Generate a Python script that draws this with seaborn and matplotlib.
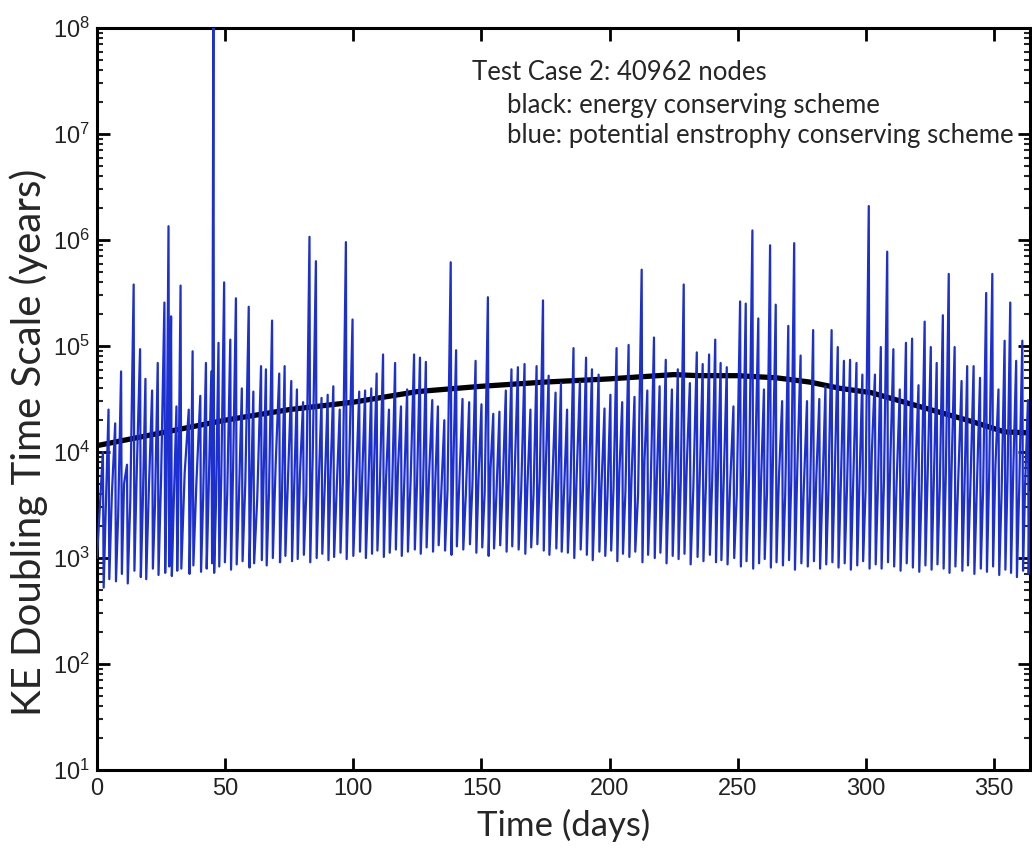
import numpy as np
import pandas as pd
import matplotlib
matplotlib.use("Agg")
import matplotlib.pyplot as plt
import seaborn as sns

# ---------------- data ----------------
# energy conserving scheme (black): day, log10(years)
black_day = [0, 25, 50, 75, 100, 125, 150, 175, 200, 225, 235, 250, 265, 278,
             290, 302, 315, 328, 341, 354, 364]
black_log = [4.06, 4.18, 4.30, 4.40, 4.47, 4.57, 4.62, 4.66, 4.69, 4.73, 4.72,
             4.72, 4.70, 4.66, 4.60, 4.56, 4.47, 4.38, 4.29, 4.19, 4.18]

# potential enstrophy conserving scheme (blue): spike days and log10 peak values
spike_day = [
    2.3, 4.5, 7.1, 9.4, 11.7, 14.3, 16.8, 18.9, 21.5, 23.7, 26.3, 27.9, 28.9, 31.0,
    32.6, 35.8, 37.3, 40.3, 42.5, 44.6, 45.4, 47.4, 49.6, 52.0, 54.2, 56.5, 59.2,
    61.0, 64.0, 65.9, 68.3, 71.1, 73.2, 75.8, 78.0, 80.4, 82.9, 85.4, 87.6, 90.0,
    92.2, 94.7, 97.1, 99.7, 102.3, 104.6, 107.0, 109.1, 111.6, 113.9, 116.3, 118.6, 121.0,
    123.7, 126.0, 128.3, 130.8, 133.0, 135.5, 138.0, 140.1, 142.6, 145.2, 147.7, 150.0,
    152.5, 154.6, 157.0, 159.5, 161.7, 164.2, 166.8, 169.1, 171.5, 174.0, 176.2, 178.9, 181.0,
    183.4, 185.9, 188.4, 190.8, 193.1, 195.7, 198.0, 200.3, 202.7, 204.9, 207.4, 209.7,
    212.5, 214.7, 217.3, 219.5, 221.9, 224.3, 226.6, 228.9, 231.3, 234.0, 236.3, 238.8, 241.2,
    243.3, 245.7, 248.3, 250.9, 253.1, 255.7, 258.0, 260.2, 262.6, 264.8, 267.3, 269.7,
    272.0, 274.5, 277.0, 279.4, 281.8, 284.2, 286.6, 289.0, 291.4, 293.8, 296.3, 298.6, 301.1,
    303.5, 305.8, 308.3, 310.7, 313.2, 315.6, 318.0, 320.5, 322.9, 325.3, 327.6, 330.0,
    332.3, 334.6, 337.3, 339.5, 342.0, 344.5, 346.9, 349.3, 351.7, 354.1, 356.3, 358.6, 361.0, 363.2]
spike_log = [
    4.00, 4.40, 4.27, 4.76, 3.88, 5.58, 4.97, 4.69, 4.58, 4.84, 5.41, 6.13, 5.28, 4.43,
    5.57, 4.40, 4.95, 4.53, 4.84, 4.76, 8.10, 5.03, 5.60, 5.06, 5.45, 4.60, 5.37,
    4.57, 4.81, 4.78, 5.24, 4.74, 4.81, 4.67, 4.59, 4.47, 6.03, 5.80, 4.51, 4.54,
    4.62, 4.40, 5.98, 5.25, 4.57, 4.58, 4.60, 4.74, 4.92, 4.40, 4.84, 4.43, 4.59,
    4.92, 4.89, 4.85, 4.49, 4.43, 4.30, 5.79, 4.96, 4.50, 4.47, 4.86, 4.45,
    5.46, 4.36, 4.38, 4.58, 4.78, 4.80, 4.83, 4.40, 4.81, 5.43, 4.72, 4.56, 4.65,
    4.40, 4.98, 4.66, 4.89, 4.78, 4.73, 4.41, 4.54, 4.98, 4.47, 5.01, 4.52,
    5.72, 4.58, 5.08, 4.62, 4.87, 4.59, 4.78, 5.58, 4.65, 4.94, 4.83, 4.92, 5.06,
    4.84, 4.80, 4.43, 5.42, 5.40, 6.09, 5.26, 4.59, 5.95, 5.39, 4.48, 5.19,
    5.97, 4.91, 4.48, 5.15, 4.50, 4.62, 5.15, 4.99, 4.86, 4.87, 4.84, 4.73, 6.32,
    4.73, 4.99, 5.89, 4.97, 4.59, 5.03, 5.07, 4.63, 5.23, 4.99, 4.84, 5.29,
    5.68, 4.99, 4.67, 4.81, 4.81, 4.70, 5.50, 5.68, 4.59, 5.05, 5.41, 4.86, 5.05, 4.49]
# trough after each spike (log10)
trough_log = [
    2.72, 2.80, 2.78, 2.85, 2.76, 2.88, 2.82, 2.80, 2.90, 2.84, 2.86, 2.92, 2.83, 2.88,
    2.90, 2.85, 2.93, 2.87, 2.90, 2.95, 2.86, 2.92, 2.96, 2.89, 2.94, 2.97, 2.91,
    2.95, 2.98, 2.93, 3.00, 2.96, 3.02, 2.97, 2.99, 3.03, 2.96, 3.00, 3.04, 2.98,
    3.01, 3.05, 2.99, 3.02, 3.06, 3.00, 3.04, 3.07, 3.01, 3.05, 3.08, 3.02, 3.06,
    3.08, 3.04, 3.10, 3.06, 3.12, 3.07, 3.03, 3.11, 3.08, 3.13, 3.05, 3.10,
    3.02, 3.09, 3.12, 3.06, 3.11, 3.08, 3.04, 3.10, 3.13, 3.07, 3.03, 3.09, 3.06,
    3.05, 3.00, 3.08, 3.03, 2.98, 3.06, 3.02, 3.07, 2.97, 3.04, 3.01, 3.06,
    2.96, 3.03, 3.00, 3.05, 2.95, 3.02, 2.99, 3.04, 2.94, 3.01, 2.97, 3.03, 2.96,
    2.98, 2.94, 3.00, 2.92, 2.97, 2.90, 2.95, 2.99, 2.91, 2.96, 2.93, 2.98,
    2.89, 2.95, 2.92, 2.97, 2.90, 2.94, 2.96, 2.91, 2.95, 2.89, 2.93, 2.97, 2.90,
    2.94, 2.90, 2.96, 2.92, 2.88, 2.95, 2.91, 2.87, 2.93, 2.89, 2.94, 2.90,
    2.86, 2.92, 2.88, 2.93, 2.85, 2.90, 2.87, 2.92, 2.84, 2.89, 2.86, 2.82, 2.88, 2.85]
# secondary (minor) peak between two spikes (log10)
mid_log = [
    3.45, 3.60, 3.40, 3.70, 3.55, 3.85, 3.50, 3.62, 3.48, 3.75, 3.58, 3.90, 3.52, 3.66,
    3.80, 3.47, 3.72, 3.56, 3.63, 4.05, 3.50, 3.78, 3.60, 3.85, 3.55, 3.70, 3.62,
    3.55, 3.70, 3.62, 3.88, 3.58, 3.74, 3.65, 3.80, 3.60, 3.95, 3.70, 3.64, 3.78,
    3.60, 3.72, 3.92, 3.66, 3.75, 3.62, 3.82, 3.68, 3.74, 3.60, 3.86, 3.66, 3.72,
    3.70, 3.62, 3.78, 3.66, 3.58, 3.64, 3.90, 3.72, 3.60, 3.68, 3.75, 3.62,
    3.85, 3.58, 3.66, 3.72, 3.80, 3.64, 3.70, 3.60, 3.76, 3.88, 3.65, 3.70, 3.62,
    3.60, 3.78, 3.66, 3.72, 3.64, 3.70, 3.58, 3.65, 3.80, 3.62, 3.76, 3.60,
    3.92, 3.66, 3.74, 3.62, 3.70, 3.64, 3.72, 3.88, 3.66, 3.75, 3.68, 3.72, 3.80,
    3.72, 3.68, 3.60, 3.80, 3.78, 3.95, 3.74, 3.62, 3.90, 3.76, 3.60, 3.72,
    3.88, 3.66, 3.60, 3.74, 3.62, 3.68, 3.76, 3.70, 3.66, 3.72, 3.68, 3.64, 4.00,
    3.66, 3.74, 3.90, 3.70, 3.62, 3.72, 3.76, 3.64, 3.80, 3.70, 3.66, 3.78,
    3.88, 3.70, 3.62, 3.68, 3.66, 3.64, 3.82, 3.86, 3.60, 3.72, 3.80, 3.66, 3.70, 3.62]
blue_start_log = 3.0
blue_end_day = 364.0

x_ticks = [0, 50, 100, 150, 200, 250, 300, 350]

title_lines = ["Test Case 2: 40962 nodes",
               "black: energy conserving scheme",
               "blue: potential enstrophy conserving scheme"]

# ---------------- build tables ----------------
black_df = pd.DataFrame({"day": black_day, "years": np.power(10.0, black_log)})

bx, by = [0.0], [blue_start_log]
next_days = spike_day[1:] + [blue_end_day + 0.4]
for d, nd, p, t, m in zip(spike_day, next_days, spike_log, trough_log, mid_log):
    bx += [d, d + 0.3, 0.5 * (d + nd)]
    by += [p, t, m]
blue_df = pd.DataFrame({"day": bx, "years": np.power(10.0, by)})

# ---------------- figure ----------------
sns.set_theme(style="ticks")
plt.rcParams["font.family"] = ["Liberation Sans", "DejaVu Sans"]
plt.rcParams["mathtext.default"] = "regular"

fig = plt.figure(figsize=(10.32, 8.56), dpi=100)
ax = fig.add_axes([97 / 1032, 86 / 856, 933 / 1032, 742 / 856])
ax.set_yscale("log")

sns.lineplot(data=black_df, x="day", y="years", ax=ax, color="black",
             linewidth=3.8, sort=False, estimator=None, zorder=2)
sns.lineplot(data=blue_df, x="day", y="years", ax=ax, color="#1c2fd0",
             linewidth=1.6, sort=False, estimator=None, zorder=3)

ax.set_xlim(0, 364)
ax.set_ylim(1e1, 1e8)
ax.set_xticks(x_ticks)
ax.set_xticklabels([str(v) for v in x_ticks])
ax.yaxis.set_major_locator(matplotlib.ticker.LogLocator(base=10, numticks=10))
ax.yaxis.set_minor_locator(matplotlib.ticker.LogLocator(base=10, subs=np.arange(2, 10), numticks=20))
ax.yaxis.set_minor_formatter(matplotlib.ticker.NullFormatter())

for s in ax.spines.values():
    s.set_linewidth(2.2)
    s.set_color("black")
ax.tick_params(axis="both", which="major", direction="in", length=9, width=2,
               top=True, right=True, labelsize=17, colors="black")
ax.tick_params(axis="x", which="major", pad=6)
ax.tick_params(axis="y", which="major", pad=5)
ax.tick_params(axis="y", which="minor", direction="in", length=4.5, width=1.5,
               left=True, right=True)
ax.tick_params(axis="x", which="minor", bottom=False, top=False)
for lab in ax.get_xticklabels() + ax.get_yticklabels():
    lab.set_color("#222222")

ax.set_xlabel("Time (days)", fontsize=25, family="Lato", labelpad=6)
ax.set_ylabel("KE Doubling Time Scale (years)", fontsize=29, family="Lato")
ax.yaxis.set_label_coords(-0.052, 0.442)

fig.text(472 / 1032, 1 - 72 / 856, title_lines[0], fontsize=18.5, family="Lato",
         ha="left", va="center")
fig.text(507 / 1032, 1 - 105 / 856, title_lines[1], fontsize=18.5, family="Lato",
         ha="left", va="center")
fig.text(507 / 1032, 1 - 135 / 856, title_lines[2], fontsize=18.5, family="Lato",
         ha="left", va="center")

fig.savefig("out.png", dpi=100)
